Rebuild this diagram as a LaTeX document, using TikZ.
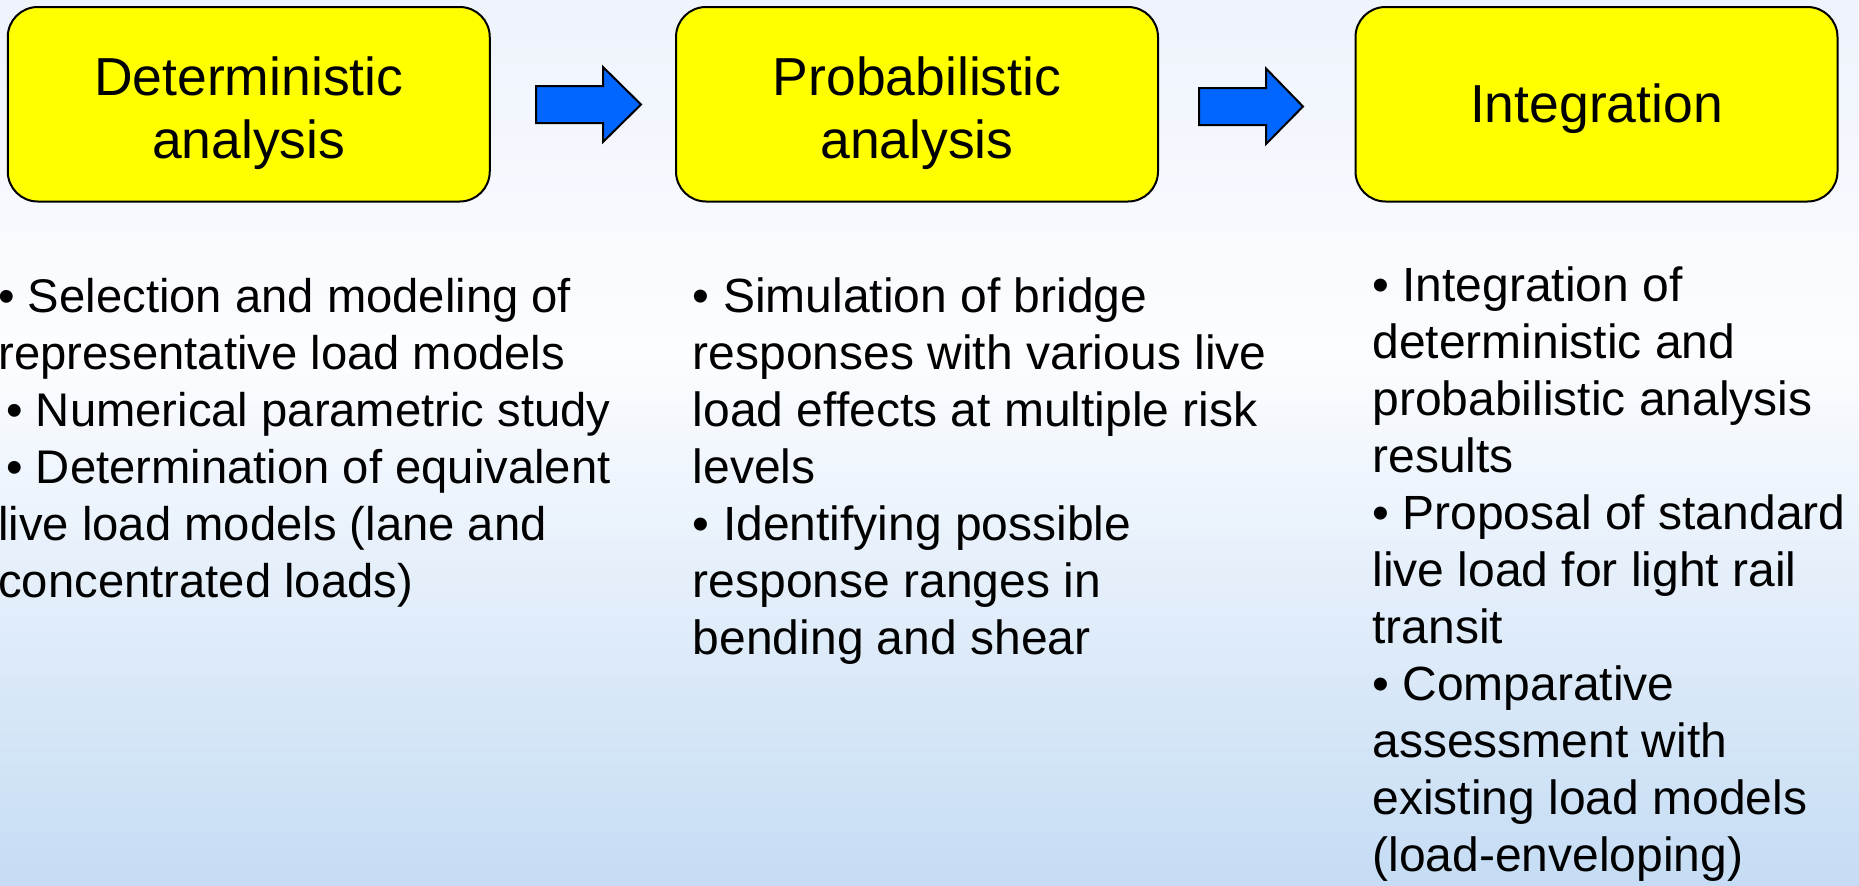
\documentclass[tikz,border=0pt]{standalone}
\usepackage{fontspec}
\setmainfont{Liberation Sans}
\definecolor{bgtop}{RGB}{238,243,252}
\definecolor{bgmid}{RGB}{252,253,255}
\definecolor{bgbot}{RGB}{197,220,244}
\definecolor{boxyellow}{RGB}{255,255,0}
\definecolor{arrowblue}{RGB}{0,102,255}
\begin{document}
\begin{tikzpicture}[x=0.5pt,y=-0.5pt,
  stagebox/.style={draw=black, line width=1pt, fill=boxyellow, rounded corners=15pt,
    minimum width=241pt, minimum height=97.25pt, inner sep=0pt},
  titletext/.style={font=\fontsize{26.75}{31.5}\selectfont, inner sep=0pt, anchor=base},
  bodytext/.style={font=\fontsize{24}{28.5}\selectfont, inner sep=0pt, anchor=base west},
  blockarrow/.style={draw=black, line width=1pt, fill=arrowblue, line join=miter}]
\useasboundingbox (0,0) rectangle (1859,885);
\shade[top color=bgtop, bottom color=bgmid] (0,0) rectangle (1859,351);
\shade[top color=bgmid, bottom color=bgbot] (0,350) rectangle (1859,885);

\node[stagebox] (b1) at (248.75,104.25) {};
\node[stagebox] (b2) at (917,104.25) {};
\node[stagebox] (b3) at (1596.5,104.25) {};

\node[titletext] (t1) at (248.75,95) {\begin{tabular}[t]{@{}c@{}}Deterministic\\analysis\end{tabular}};
\node[titletext] (t2) at (917,95) {\begin{tabular}[t]{@{}c@{}}Probabilistic\\analysis\end{tabular}};
\node[titletext] (t3) at (1596.5,122) {Integration};

\draw[blockarrow] (536,86) -- (603,86) -- (603,67) -- (641,104.5) -- (603,142) -- (603,123) -- (536,123) -- cycle;
\draw[blockarrow] (1199,88) -- (1266,88) -- (1266,68.5) -- (1303,106.5) -- (1266,144) -- (1266,125) -- (1199,125) -- cycle;

\node[bodytext, font=\fontsize{23.6}{28.5}\selectfont] (c1) at (-2,312) {\begin{tabular}[t]{@{}l@{}}
• Selection and modeling of\\
representative load models\\
\hspace*{4pt}• Numerical parametric study\\
\hspace*{4pt}• Determination of equivalent\\
live load models (lane and\\
concentrated loads)\end{tabular}};

\node[bodytext] (c2) at (692.5,312) {\begin{tabular}[t]{@{}l@{}}
• Simulation of bridge\\
responses with various live\\
load effects at multiple risk\\
levels\\
• Identifying possible\\
response ranges in\\
bending and shear\end{tabular}};

\node[bodytext] (c3) at (1372,301) {\begin{tabular}[t]{@{}l@{}}
• Integration of\\
deterministic and\\
probabilistic analysis\\
results\\
• Proposal of standard\\
live load for light rail\\
transit\\
• Comparative\\
assessment with\\
existing load models\\
(load-enveloping)\end{tabular}};
\end{tikzpicture}
\end{document}
